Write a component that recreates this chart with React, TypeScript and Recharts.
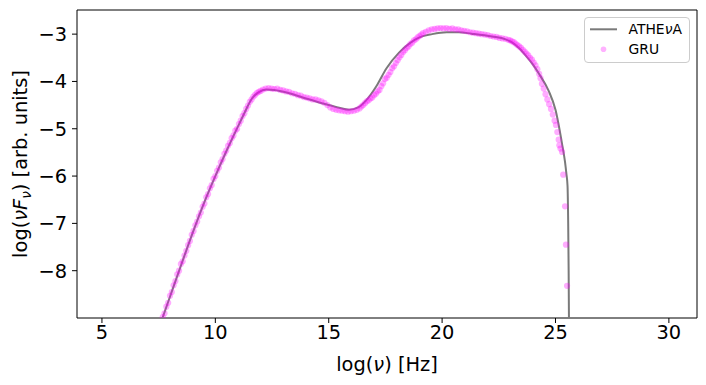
import React from 'react';
import {
  ComposedChart,
  Line,
  Scatter,
  XAxis,
  YAxis,
  ReferenceArea,
} from 'recharts';

// log(nu) [Hz] vs log(nu F_nu) – ATHEvA model curve
const modelLogNu = [
  7.3, 7.67, 8.0, 8.5, 9.0, 9.5, 10.0, 10.5, 11.0, 11.3, 11.6, 11.9, 12.25, 12.6,
  13.26, 14.0, 14.7, 15.4, 15.9, 16.3, 16.65, 17.1, 17.55, 18.1, 18.55, 19.0,
  19.56, 20.2, 20.75, 21.3, 22.2, 22.8, 23.1, 23.4, 23.7, 24.0, 24.3, 24.7, 25.0,
  25.3, 25.42, 25.48, 25.53, 25.56, 25.58, 25.6,
];
const modelLogNuFnu = [
  -9.5, -9.0, -8.55, -7.87, -7.2, -6.57, -6.0, -5.46, -4.95, -4.65, -4.37, -4.23,
  -4.17, -4.18, -4.25, -4.36, -4.46, -4.55, -4.6, -4.55, -4.4, -4.1, -3.72, -3.39,
  -3.2, -3.07, -3.0, -2.96, -2.96, -2.99, -3.05, -3.11, -3.18, -3.3, -3.46, -3.64,
  -3.86, -4.2, -4.6, -5.35, -5.7, -5.95, -6.2, -7.0, -8.0, -9.5,
];

// GRU reconstructed points
const gruPoints: [number, number][] = [
  [7.6, -9.12], [7.68, -8.98], [7.76, -8.9], [7.84, -8.76], [7.92, -8.68], [8.0, -8.53],
  [8.08, -8.45], [8.16, -8.31], [8.24, -8.22], [8.32, -8.08], [8.4, -8.0], [8.48, -7.86],
  [8.56, -7.8], [8.64, -7.68], [8.72, -7.58], [8.8, -7.46], [8.88, -7.37], [8.96, -7.24],
  [9.04, -7.16], [9.12, -7.04], [9.2, -6.96], [9.28, -6.85], [9.36, -6.77], [9.44, -6.65],
  [9.52, -6.58], [9.6, -6.45], [9.68, -6.38], [9.76, -6.26], [9.84, -6.19], [9.92, -6.06],
  [10.0, -6.0], [10.08, -5.89], [10.16, -5.82], [10.24, -5.71], [10.32, -5.64], [10.4, -5.53],
  [10.48, -5.46], [10.56, -5.36], [10.64, -5.3], [10.72, -5.2], [10.8, -5.14], [10.88, -5.04],
  [10.96, -5.0], [11.04, -4.9], [11.12, -4.83], [11.2, -4.73], [11.28, -4.67], [11.36, -4.58],
  [11.44, -4.51], [11.52, -4.43], [11.6, -4.38], [11.68, -4.32], [11.76, -4.28], [11.84, -4.24],
  [11.92, -4.22], [12.0, -4.2],
  [12.1, -4.17], [12.22, -4.15], [12.35, -4.14], [12.48, -4.15], [12.6, -4.16], [12.73, -4.15],
  [12.86, -4.18], [12.99, -4.19], [13.12, -4.21], [13.25, -4.22], [13.38, -4.25], [13.51, -4.26],
  [13.64, -4.29], [13.77, -4.3], [13.9, -4.33], [14.03, -4.34], [14.16, -4.36], [14.29, -4.38],
  [14.42, -4.38], [14.55, -4.4], [14.68, -4.42], [14.81, -4.45], [14.94, -4.5], [15.07, -4.55],
  [15.2, -4.58], [15.33, -4.6], [15.46, -4.61], [15.59, -4.62], [15.72, -4.63], [15.85, -4.64],
  [15.98, -4.63], [16.11, -4.62], [16.24, -4.6],
  [16.36, -4.57], [16.44, -4.53], [16.52, -4.5], [16.6, -4.46], [16.68, -4.42], [16.76, -4.4],
  [16.84, -4.36], [16.92, -4.34], [17.0, -4.29], [17.08, -4.26], [17.16, -4.21], [17.24, -4.18],
  [17.32, -4.1], [17.4, -4.04], [17.48, -3.95], [17.56, -3.92], [17.64, -3.86], [17.72, -3.8],
  [17.8, -3.72], [17.88, -3.68], [17.96, -3.61], [18.04, -3.55], [18.12, -3.49], [18.2, -3.44],
  [18.28, -3.38], [18.36, -3.34], [18.44, -3.29], [18.52, -3.26], [18.6, -3.21], [18.68, -3.18],
  [18.76, -3.13], [18.84, -3.11], [18.92, -3.07], [19.0, -3.04], [19.08, -3.01], [19.16, -2.98],
  [19.28, -2.95], [19.41, -2.92], [19.54, -2.9], [19.67, -2.89], [19.8, -2.88], [19.93, -2.87],
  [20.06, -2.88], [20.19, -2.87], [20.32, -2.89], [20.45, -2.88], [20.58, -2.9], [20.71, -2.9],
  [20.84, -2.92], [20.97, -2.93], [21.1, -2.94], [21.23, -2.96], [21.36, -2.97], [21.49, -2.98],
  [21.62, -2.99], [21.75, -3.0], [21.88, -3.01], [22.01, -3.02], [22.14, -3.04], [22.27, -3.05],
  [22.4, -3.06], [22.53, -3.08], [22.66, -3.09], [22.79, -3.1],
  [22.92, -3.12], [23.0, -3.13], [23.08, -3.15], [23.16, -3.17], [23.24, -3.2], [23.32, -3.23],
  [23.4, -3.26], [23.48, -3.29], [23.56, -3.33], [23.64, -3.37], [23.72, -3.41], [23.8, -3.45],
  [23.88, -3.5], [23.96, -3.54], [24.04, -3.6], [24.12, -3.66], [24.2, -3.74], [24.28, -3.84],
  [24.34, -3.93], [24.4, -4.05], [24.48, -4.15], [24.56, -4.27], [24.64, -4.38], [24.72, -4.48],
  [24.8, -4.58], [24.88, -4.7], [24.96, -4.83], [25.02, -4.92], [25.08, -5.07], [25.14, -5.23],
  [25.17, -5.35], [25.22, -5.42], [25.29, -5.49], [25.34, -5.97], [25.42, -6.64], [25.46, -7.45],
  [25.51, -8.32],
];

const xTicks = [5, 10, 15, 20, 25, 30];
const yTicks = [-8, -7, -6, -5, -4, -3];
const xDomain: [number, number] = [3.9, 31.24];
const yDomain: [number, number] = [-9, -2.49];

const modelData = modelLogNu.map((x, i) => ({ x, y: modelLogNuFnu[i] }));
const gruData = gruPoints.map(([x, y]) => ({ x, y }));

const FONT = 'DejaVu Sans, sans-serif';
const LINE_COLOR = '#7a7a7a';
const DOT_COLOR = '#ff00ff';

const fmt = (v: number) => (v < 0 ? '\u2212' + Math.abs(v) : String(v));

const XLabel = () => (
  <text x={387} y={371} textAnchor="middle" fontFamily={FONT} fontSize={19.4} fill="#000">
    log(<tspan fontStyle="italic">ν</tspan>) [Hz]
  </text>
);

const YLabel = () => (
  <text
    transform="rotate(-90)"
    x={-164}
    y={27}
    textAnchor="middle"
    fontFamily={FONT}
    fontSize={19.4}
    fill="#000"
  >
    log(<tspan fontStyle="italic">νF</tspan>
    <tspan fontStyle="italic" fontSize={13.6} dy={4}>ν</tspan>
    <tspan dy={-4}>) [arb. units]</tspan>
  </text>
);

const LegendBox = () => (
  <div
    style={{
      position: 'absolute',
      left: 584,
      top: 17,
      width: 106,
      height: 46,
      boxSizing: 'border-box',
      border: '1px solid #cccccc',
      borderRadius: 4,
      background: 'rgba(255,255,255,0.8)',
    }}
  >
    <svg width={106} height={46} style={{ position: 'absolute', left: -1, top: -1 }}>
      <line x1={6} x2={33} y1={12.3} y2={12.3} stroke={LINE_COLOR} strokeWidth={2} />
      <circle cx={19.5} cy={32.3} r={2.8} fill={DOT_COLOR} fillOpacity={0.3} />
      <text x={44.5} y={12.3} dy="0.36em" fontFamily={FONT} fontSize={13.9} fill="#000">
        ATHE<tspan fontStyle="italic">ν</tspan>A
      </text>
      <text x={44.5} y={32.3} dy="0.36em" fontFamily={FONT} fontSize={13.9} fill="#000">
        GRU
      </text>
    </svg>
  </div>
);

const Dot = (props: any) => {
  const { cx, cy } = props;
  if (cx == null || cy == null) return null;
  return <circle cx={cx} cy={cy} r={3.1} fill={DOT_COLOR} fillOpacity={0.32} />;
};

export default function App() {
  return (
    <div style={{ position: 'absolute', left: 0, top: 0, width: 706, height: 385, background: '#fff' }}>
      <ComposedChart width={706} height={385} margin={{ top: 10, right: 9, bottom: 0, left: 0 }}>
        <XAxis
          dataKey="x"
          type="number"
          domain={xDomain}
          ticks={xTicks}
          allowDataOverflow
          height={67}
          tickSize={5}
          tickMargin={2}
          axisLine={false}
          tickLine={{ stroke: '#000', strokeWidth: 1 }}
          tick={{ fill: '#000', fontSize: 19.4, fontFamily: FONT }}
          tickFormatter={fmt}
          label={<XLabel />}
        />
        <YAxis
          dataKey="y"
          type="number"
          domain={yDomain}
          ticks={yTicks}
          allowDataOverflow
          width={77}
          tickSize={5}
          tickMargin={5}
          axisLine={false}
          tickLine={{ stroke: '#000', strokeWidth: 1 }}
          tick={{ fill: '#000', fontSize: 19.4, fontFamily: FONT }}
          tickFormatter={fmt}
          label={<YLabel />}
        />
        <ReferenceArea
          x1={xDomain[0]}
          x2={xDomain[1]}
          y1={yDomain[0]}
          y2={yDomain[1]}
          fill="none"
          fillOpacity={0}
          stroke="#000"
          strokeWidth={1}
          ifOverflow="visible"
        />
        <Line
          data={modelData}
          dataKey="y"
          type="monotone"
          stroke={LINE_COLOR}
          strokeWidth={2}
          dot={false}
          activeDot={false}
          isAnimationActive={false}
          name="ATHEνA"
        />
        <Scatter
          data={gruData}
          dataKey="y"
          shape={<Dot />}
          isAnimationActive={false}
          name="GRU"
        />
      </ComposedChart>
      <LegendBox />
    </div>
  );
}
